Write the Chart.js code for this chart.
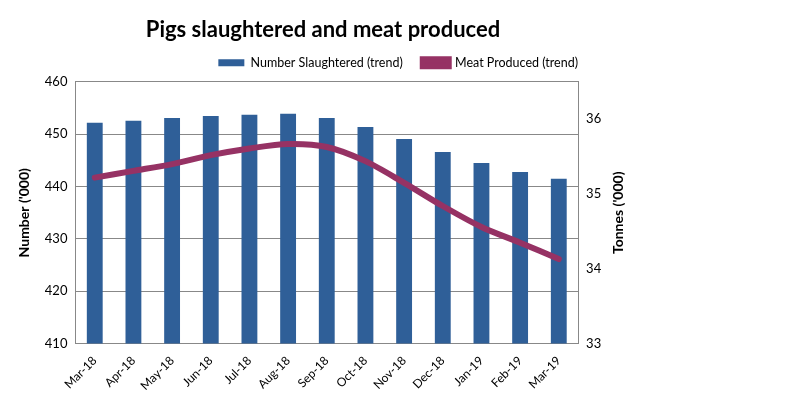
<!DOCTYPE html>
<html>
<head>
<meta charset="utf-8">
<script src="https://cdn.jsdelivr.net/npm/chart.js@4"></script>
<style>
  html, body { margin: 0; padding: 0; background: #fff; }
  #wrap { width: 787px; height: 398px; }
</style>
</head>
<body>
<div id="wrap"><canvas id="pigChart"></canvas></div>
<script>
var months = ['Mar-18', 'Apr-18', 'May-18', 'Jun-18', 'Jul-18', 'Aug-18', 'Sep-18',
              'Oct-18', 'Nov-18', 'Dec-18', 'Jan-19', 'Feb-19', 'Mar-19'];
var slaughtered = [452.2, 452.6, 453.1, 453.5, 453.7, 453.9, 453.1, 451.4, 449.1, 446.6, 444.5, 442.8, 441.5];
var meat = [35.22, 35.31, 35.40, 35.52, 35.61, 35.67, 35.63, 35.44, 35.15, 34.84, 34.56, 34.35, 34.13];

var font = 'Lato, "DejaVu Sans", sans-serif';
Chart.defaults.font.family = font;
Chart.defaults.color = '#000';

// legend: wide gap between items but tight vertically, and pulled left so it
// ends over the plot's right edge
var legendTweak = {
    id: 'legendTweak',
    beforeInit: function(chart) {
        var origFit = chart.legend.fit;
        chart.legend.fit = function() {
            origFit.call(this);
            this.height -= 7;
        };
    },
    afterLayout: function(chart) {
        var lg = chart.legend;
        lg.left -= 32;
        lg.right -= 32;
        lg.top -= 10;
        lg.bottom -= 10;
    }
};

// right axis title reads bottom-to-top in the original
var rightTitle = {
    id: 'rightTitle',
    afterDraw: function(chart) {
        var s = chart.scales.y1;
        var ctx = chart.ctx;
        ctx.save();
        ctx.translate(s.right - 12, (s.top + s.bottom) / 2);
        ctx.rotate(-Math.PI / 2);
        ctx.font = 'bold 14px ' + font;
        ctx.fillStyle = '#000';
        ctx.textAlign = 'center';
        ctx.textBaseline = 'middle';
        ctx.fillText("Tonnes ('000)", 0, 0);
        ctx.restore();
    }
};

var ctx = document.getElementById('pigChart').getContext('2d');
var myChart = new Chart(ctx, {
    data: {
        labels: months,
        datasets: [{
            type: 'bar',
            label: 'Number Slaughtered (trend)',
            data: slaughtered,
            backgroundColor: '#2F5F98',
            barPercentage: 0.41,
            categoryPercentage: 1,
            yAxisID: 'y',
            order: 2
        }, {
            type: 'line',
            label: 'Meat Produced (trend)',
            data: meat,
            borderColor: '#963264',
            backgroundColor: '#963264',
            borderWidth: 6,
            pointRadius: 0,
            tension: 0.3,
            borderCapStyle: 'round',
            yAxisID: 'y1',
            order: 1
        }]
    },
    options: {
        responsive: true,
        maintainAspectRatio: false,
        animation: false,
        layout: { padding: { left: 16, right: 157, top: 8, bottom: 3 } },
        plugins: {
            title: {
                display: true,
                text: 'Pigs slaughtered and meat produced',
                font: { size: 22, weight: 'bold' },
                color: '#000',
                padding: { top: 9, bottom: 3 }
            },
            legend: {
                position: 'top',
                align: 'end',
                labels: {
                    boxWidth: 26,
                    boxHeight: 7,
                    font: { size: 12.5 },
                    color: '#000',
                    padding: 20,
                    sort: function(a, b) { return a.datasetIndex - b.datasetIndex; }
                }
            },
            tooltip: { enabled: false }
        },
        scales: {
            x: {
                offset: true,
                grid: { display: false },
                border: { display: true, color: '#888' },
                ticks: {
                    maxRotation: 45,
                    minRotation: 45,
                    font: { size: 12 },
                    color: '#000',
                    padding: 2
                }
            },
            y: {
                position: 'left',
                min: 410,
                max: 460,
                ticks: { stepSize: 10, font: { size: 13 }, color: '#000', padding: 8 },
                grid: { color: '#888', drawTicks: false },
                border: { color: '#888' },
                title: {
                    display: true,
                    text: "Number ('000)",
                    font: { size: 14, weight: 'bold' },
                    color: '#000',
                    padding: { top: 0, bottom: 4 }
                }
            },
            y1: {
                position: 'right',
                min: 33,
                max: 36.5,
                afterBuildTicks: function(s) {
                    s.ticks = s.ticks.filter(function(t) { return Number.isInteger(t.value); });
                },
                ticks: { stepSize: 1, font: { size: 13 }, color: '#000', padding: 8 },
                grid: { display: false, drawTicks: false },
                border: { display: true, color: '#888' },
                title: {
                    display: true,
                    text: "Tonnes ('000)",
                    font: { size: 14, weight: 'bold' },
                    color: 'rgba(0,0,0,0)',
                    padding: { top: 4, bottom: 0 }
                }
            }
        }
    },
    plugins: [legendTweak, rightTitle]
});
</script>
</body>
</html>
